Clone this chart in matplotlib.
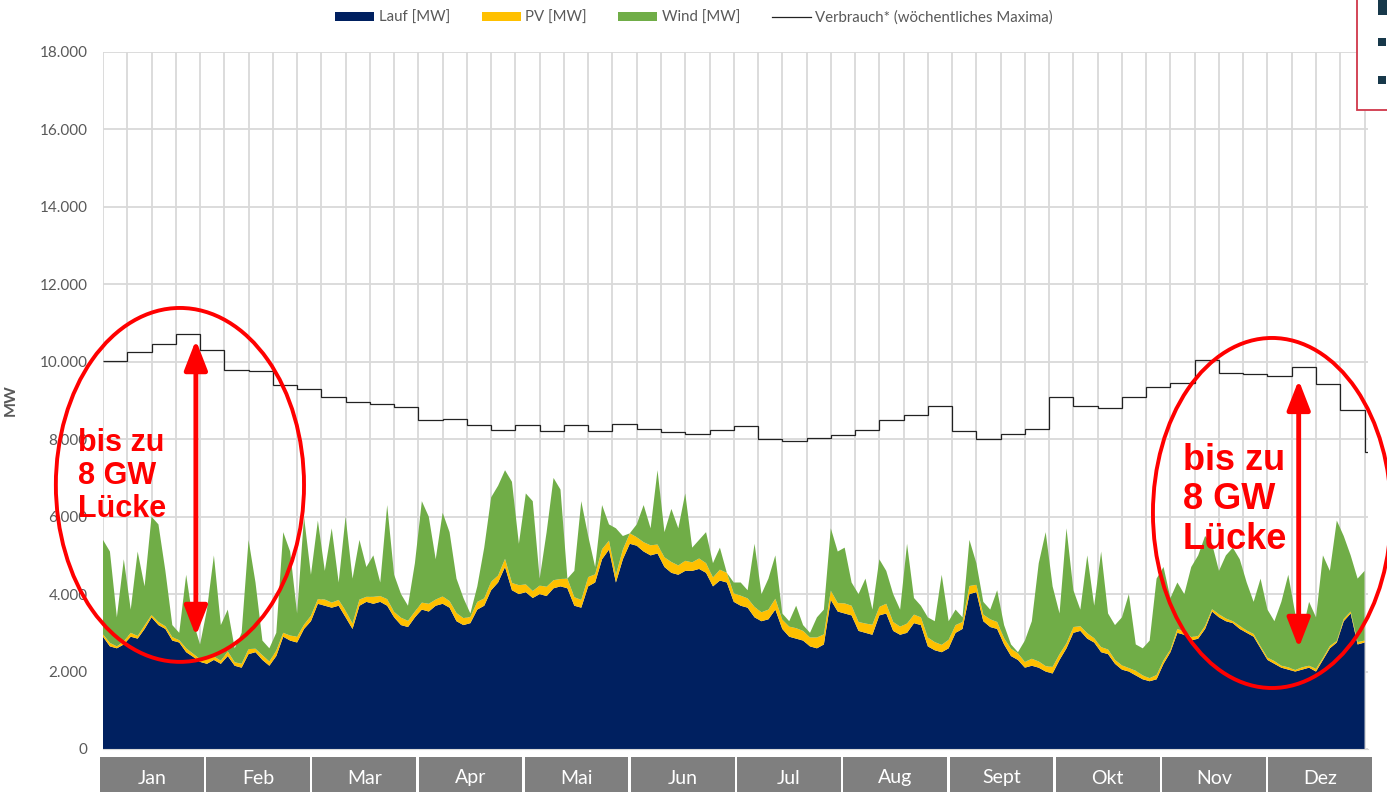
#!/usr/bin/env python3
"""Jahresverlauf Lauf/PV/Wind gegen wöchentliche Verbrauchsmaxima (MW)."""
import numpy as np
import matplotlib
matplotlib.use("Agg")
import matplotlib.pyplot as plt
from matplotlib.patches import Ellipse, Patch, Rectangle
from matplotlib.lines import Line2D
from matplotlib.ticker import FuncFormatter

plt.rcParams["font.family"] = ["Lato", "DejaVu Sans"]

W, H = 1387, 792

tage = np.arange(0, 365, 2)

lauf = [
    2900, 2650, 2600, 2700, 2900, 2850, 3100, 3400, 3200, 3100,
    2800, 2750, 2500, 2380, 2250, 2200, 2300, 2200, 2400, 2150,
    2100, 2450, 2500, 2300, 2150, 2400, 2900, 2800, 2750, 3100,
    3300, 3750, 3700, 3650, 3700, 3400, 3100, 3700, 3800, 3750,
    3800, 3700, 3400, 3200, 3150, 3400, 3600, 3550, 3700, 3750,
    3650, 3300, 3200, 3250, 3600, 3700, 4100, 4300, 4700, 4100,
    4000, 4050, 3900, 4000, 3950, 4150, 4200, 4150, 3700, 3650,
    4200, 4300, 4900, 5150, 4300, 4900, 5300, 5250, 5100, 5000,
    5050, 4700, 4550, 4500, 4600, 4600, 4650, 4550, 4200, 4350,
    4300, 3800, 3700, 3650, 3400, 3300, 3350, 3600, 3100, 2900,
    2850, 2800, 2650, 2600, 2700, 3850, 3550, 3500, 3450, 3050,
    3000, 2950, 3450, 3500, 3050, 2950, 3000, 3250, 3200, 2650,
    2550, 2500, 2600, 3000, 3100, 4000, 4050, 3300, 3150, 3100,
    2700, 2400, 2300, 2100, 2150, 2100, 2000, 1950, 2300, 2600,
    3000, 3050, 2850, 2750, 2500, 2450, 2200, 2050, 2000, 1900,
    1800, 1750, 1800, 2200, 2500, 3000, 2950, 2800, 2850, 3100,
    3550, 3400, 3300, 3250, 3100, 3000, 2900, 2600, 2300, 2200,
    2100, 2050, 2000, 2050, 2100, 2000, 2300, 2600, 2750, 3300,
    3500, 2700, 2750,
]

pv = [
    60, 90, 50, 80, 100, 70, 90, 60, 80, 70,
    90, 60, 100, 80, 70, 110, 90, 80, 120, 90,
    100, 130, 90, 120, 110, 140, 100, 130, 150, 110,
    140, 120, 160, 130, 150, 170, 140, 160, 130, 180,
    150, 170, 140, 190, 160, 150, 180, 200, 160, 190,
    170, 210, 180, 160, 200, 190, 220, 180, 210, 190,
    230, 200, 180, 220, 240, 210, 190, 250, 220, 200,
    240, 210, 260, 230, 200, 250, 270, 220, 240, 260,
    230, 250, 280, 240, 260, 220, 270, 250, 230, 280,
    250, 220, 260, 240, 270, 230, 250, 280, 240, 260,
    270, 250, 230, 280, 260, 240, 220, 260, 250, 230,
    240, 260, 220, 250, 230, 210, 240, 220, 200, 230,
    210, 190, 220, 200, 180, 210, 190, 170, 200, 180,
    160, 190, 170, 150, 180, 160, 140, 170, 150, 130,
    150, 120, 140, 110, 130, 120, 100, 110, 90, 120,
    100, 80, 110, 90, 70, 100, 80, 90, 70, 80,
    60, 80, 70, 50, 80, 60, 70, 50, 60, 70,
    50, 60, 40, 60, 50, 70, 50, 60, 40, 60,
    50, 60, 50,
]

# Oberkante Lauf+PV+Wind, Wind ergibt sich als Differenz
gesamt = [
    5400, 5100, 3400, 4900, 3600, 5100, 4200, 6000, 5800, 4600,
    3200, 3000, 4500, 3300, 2700, 3600, 5000, 3200, 3600, 2600,
    3000, 5400, 4300, 2800, 2600, 3000, 5600, 5100, 3500, 6000,
    4500, 5900, 4600, 5700, 4300, 6000, 4400, 5400, 4700, 5000,
    4300, 6300, 4500, 4000, 3700, 4800, 6400, 6000, 4900, 6100,
    5600, 4400, 3900, 3500, 4200, 5200, 6500, 6800, 7200, 6900,
    5300, 6600, 6400, 4400, 5600, 7000, 6700, 4300, 4600, 6400,
    5500, 4700, 6300, 5800, 5700, 5500, 5400, 5800, 6300, 5700,
    7200, 5600, 6200, 5700, 6600, 5200, 5400, 5600, 4800, 5200,
    4500, 4300, 4300, 4100, 5300, 4000, 4400, 5000, 3500, 3300,
    3700, 3200, 3000, 3400, 3600, 5700, 5100, 5200, 4300, 4000,
    4400, 3600, 4900, 4600, 4000, 3600, 5300, 3900, 3700, 3400,
    3300, 4500, 3300, 3600, 3400, 5400, 4800, 3800, 3600, 4100,
    3200, 2700, 2500, 2800, 3300, 4800, 5600, 4200, 3500, 5700,
    4100, 3600, 5000, 3700, 5100, 3500, 3200, 3400, 4000, 2700,
    2600, 2800, 4400, 4700, 3900, 4300, 4000, 4700, 5000, 5500,
    5300, 4600, 5000, 5200, 4900, 4300, 3800, 4400, 3600, 3300,
    3800, 4500, 3500, 3000, 3800, 3400, 5000, 4600, 5900, 5500,
    5000, 4400, 4600,
]

# wöchentliche Verbrauchsmaxima (53 Wochen)
verbrauch = [
    10020, 10240, 10460, 10730, 10300, 9780, 9750, 9390, 9290, 9090,
    8960, 8910, 8820, 8500, 8520, 8360, 8230, 8380, 8210, 8360,
    8210, 8390, 8260, 8190, 8140, 8230, 8330, 8010, 7960, 8020,
    8120, 8240, 8490, 8630, 8850, 8210, 8010, 8140, 8270, 9100,
    8870, 8800, 9100, 9350, 9460, 10040, 9710, 9680, 9630, 9860,
    9430, 8760, 7680,
]

monate = ["Jan", "Feb", "Mar", "Apr", "Mai", "Jun",
          "Jul", "Aug", "Sept", "Okt", "Nov", "Dez"]

C_LAUF = "#002060"
C_PV = "#FFC000"
C_WIND = "#70AD47"
GRAU = "#595959"


def fx(px):
    return px / W


def fy(py):
    return 1 - py / H


lauf_a = np.array(lauf, dtype=float)
pv_a = np.array(pv, dtype=float)
wind_a = np.clip(np.array(gesamt, dtype=float) - lauf_a - pv_a, 0, None)

fig = plt.figure(figsize=(W / 100, H / 100), dpi=100)
ax = fig.add_axes([fx(103), fy(749), fx(1368) - fx(103), fy(52) - fy(749)])

ax.stackplot(tage, lauf_a, pv_a, wind_a, colors=[C_LAUF, C_PV, C_WIND],
             linewidth=0, zorder=2)

kanten = np.append(np.arange(0, 365, 7), 365)
ax.stairs(verbrauch, kanten, color="#222222", linewidth=0.9, baseline=None, zorder=3)

ax.set_xlim(0, 365)
ax.set_ylim(0, 18000)
ax.set_yticks(np.arange(0, 18001, 2000))
ax.yaxis.set_major_formatter(FuncFormatter(lambda v, _: f"{v:,.0f}".replace(",", ".")))
ax.set_xticks(np.arange(0, 366, 7))
ax.set_xticklabels([])
ax.grid(True, color="#D9D9D9", linewidth=1.3, zorder=0)
ax.set_axisbelow(True)
ax.tick_params(length=0, labelsize=11, labelcolor=GRAU, pad=11)
for s in ["top", "right", "left"]:
    ax.spines[s].set_visible(False)
ax.spines["bottom"].set_color("#D9D9D9")
ax.set_ylabel("MW", fontsize=11.5, fontweight="bold", color=GRAU)
ax.yaxis.set_label_coords((18 - 103) / 1265, 0.5)

# Monatsboxen unter der Achse
breite = 106.2
for i, m in enumerate(monate):
    x0 = 100 + i * breite
    fig.add_artist(Rectangle((fx(x0), 0), fx(breite - 2.5), fy(757),
                             facecolor="#7F7F7F", edgecolor="none",
                             transform=fig.transFigure))
    fig.text(fx(x0 + (breite - 2.5) / 2), fy(778), m, ha="center", va="center",
             color="white", fontsize=14)

# Legende
handles = [
    Patch(facecolor=C_LAUF, label="Lauf [MW]"),
    Patch(facecolor=C_PV, label="PV [MW]"),
    Patch(facecolor=C_WIND, label="Wind [MW]"),
    Line2D([], [], color="#222222", linewidth=0.9, label="Verbrauch* (wöchentliches Maxima)"),
]
fig.legend(handles=handles, loc="center", bbox_to_anchor=(fx(694), fy(18)), ncol=4,
           frameon=False, fontsize=10.8, labelcolor=GRAU, handlelength=2.6,
           handleheight=0.55, handletextpad=0.3, columnspacing=2.1)

# Markierungen "Lücke"
rot = "#FF0000"
ax.add_patch(Ellipse((22.2, 6820), 71.6, 9140, fill=False, edgecolor=rot,
                     linewidth=2.8, zorder=5, clip_on=False))
ax.add_patch(Ellipse((337.3, 6095), 68.7, 9040, fill=False, edgecolor=rot,
                     linewidth=2.8, zorder=5, clip_on=False))
pfeil = dict(arrowstyle="<|-|>,head_length=0.9,head_width=0.35", color=rot,
             lw=3.5, mutation_scale=20, shrinkA=0, shrinkB=0)
ax.annotate("", xy=(26.8, 2920), xytext=(26.8, 10560), arrowprops=pfeil, zorder=6)
ax.annotate("", xy=(345.0, 2610), xytext=(345.0, 9530), arrowprops=pfeil, zorder=6)

txt = "bis zu\n8 GW\nLücke"
fig.text(fx(78), fy(476), txt, ha="left", va="center", color=rot, fontsize=22,
         fontweight="bold", family=["Liberation Sans", "DejaVu Sans"], linespacing=1.15)
fig.text(fx(1183), fy(500), txt, ha="left", va="center", color=rot, fontsize=26,
         fontweight="bold", family=["Liberation Sans", "DejaVu Sans"], linespacing=1.15)

# angeschnittener Rahmen oben rechts
fig.add_artist(Rectangle((fx(1357), fy(110)), fx(60), fy(-10) - fy(110),
                         facecolor="white", edgecolor="#D0374A", linewidth=1.3,
                         transform=fig.transFigure, clip_on=False))
dunkel = "#17384A"
fig.add_artist(Rectangle((fx(1378), fy(15)), fx(9), fy(0) - fy(15),
                         facecolor=dunkel, edgecolor="none", transform=fig.transFigure))
for yy in (46, 84):
    fig.add_artist(Rectangle((fx(1378), fy(yy)), fx(8), fy(0) - fy(8),
                             facecolor=dunkel, edgecolor="none", transform=fig.transFigure))

fig.savefig("out.png", dpi=100)
